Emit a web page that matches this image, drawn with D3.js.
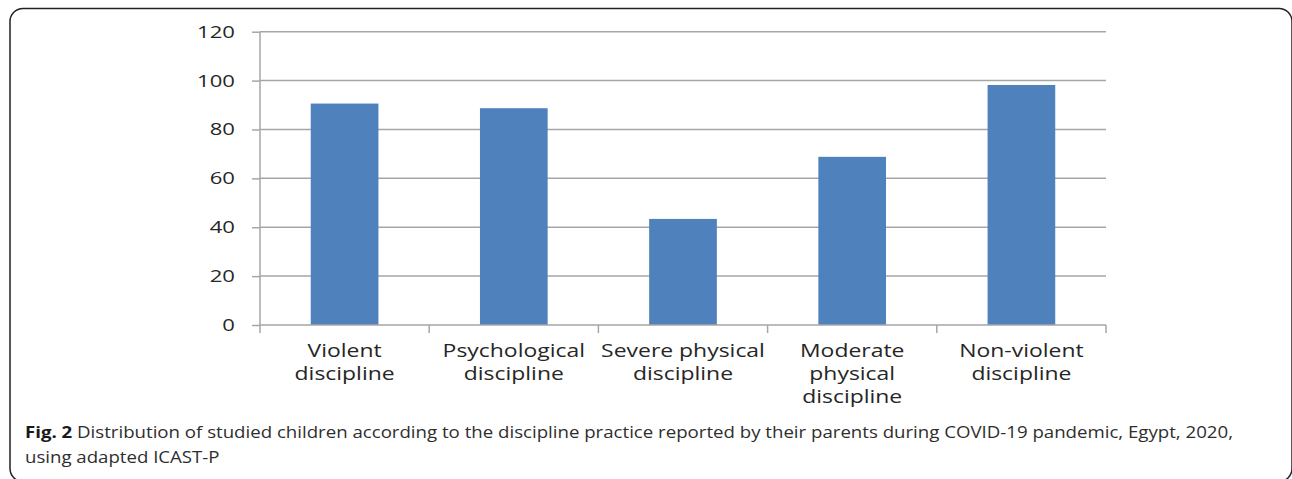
<!DOCTYPE html>
<html><head><meta charset="utf-8">
<script src="https://cdn.jsdelivr.net/npm/d3@7/dist/d3.min.js"></script>
<style>body{margin:0;background:#fff}svg{display:block}</style>
</head><body>
<svg id="c" width="1292" height="479"></svg>
<script>
const categories = [["Violent","discipline"],["Psychological","discipline"],["Severe physical","discipline"],["Moderate","physical","discipline"],["Non-violent","discipline"]];
const values = [90.6, 88.7, 43.4, 68.8, 98.2];
const yTicks = [0, 20, 40, 60, 80, 100, 120];
const captionBold = "Fig. 2";
const captionLine1 = " Distribution of studied children according to the discipline practice reported by their parents during COVID-19 pandemic, Egypt, 2020,";
const captionLine2 = "using adapted ICAST-P";

const FONT = "Open Sans, sans-serif";
const svg = d3.select("#c");
svg.append("rect").attr("x",10).attr("y",8.5).attr("width",1282).attr("height",473)
  .attr("rx",13).attr("fill","none").attr("stroke","#222").attr("stroke-width",1.5);

const x = d3.scaleBand().domain(d3.range(categories.length)).range([260,1106]).paddingInner(0.6).paddingOuter(0.3);
const y = d3.scaleLinear().domain([0,120]).range([325,31.7]);

// gridlines
svg.append("g").selectAll("line").data(yTicks.filter(d=>d>0)).join("line")
  .attr("x1",260).attr("x2",1106).attr("y1",d=>y(d)).attr("y2",d=>y(d))
  .attr("stroke","#a6a6a6").attr("stroke-width",1.5);

// bars
svg.append("g").selectAll("rect").data(values).join("rect")
  .attr("x",(d,i)=>x(i)).attr("width",x.bandwidth())
  .attr("y",d=>y(d)).attr("height",d=>y(0)-y(d)).attr("fill","#4f81bd");

// y axis
const ya = svg.append("g").attr("transform","translate(260,0)")
  .call(d3.axisLeft(y).tickValues(yTicks).tickSize(8).tickFormat(""));
ya.select(".domain").attr("stroke","#a6a6a6").attr("stroke-width",1.5).attr("d","M0,"+y(120)+"V"+y(0));
ya.selectAll(".tick line").attr("stroke","#a6a6a6").attr("stroke-width",1.5);
svg.append("g").selectAll("text").data(yTicks).join("text")
  .attr("transform",d=>"translate(235,"+(y(d)+6)+") scale(1.3,1)")
  .attr("text-anchor","end").attr("font-family",FONT).attr("font-size",17).attr("fill","#262626")
  .text(d=>d);

// x axis
const step = x.step();
const xa = svg.append("g").attr("transform","translate(0,"+y(0)+")");
xa.append("line").attr("x1",260).attr("x2",1106).attr("stroke","#a6a6a6").attr("stroke-width",1.5);
xa.selectAll(".tk").data(d3.range(categories.length+1)).join("line").attr("class","tk")
  .attr("x1",i=>260+i*step).attr("x2",i=>260+i*step).attr("y1",0).attr("y2",8)
  .attr("stroke","#a6a6a6").attr("stroke-width",1.5);
const lbl = xa.selectAll(".lb").data(categories).join("text").attr("class","lb")
  .attr("transform",(d,i)=>"translate("+(x(i)+x.bandwidth()/2)+",32) scale(1.24,1)")
  .attr("text-anchor","middle").attr("font-family",FONT).attr("font-size",18.5).attr("fill","#262626");
lbl.each(function(d){
  const t=d3.select(this);
  d.forEach((s,j)=>t.append("tspan").attr("x",0).attr("dy",j===0?0:23).text(s));
});

// caption
const cap = svg.append("text").attr("x",25).attr("y",438).attr("font-family",FONT).attr("font-size",16)
  .attr("fill","#2e2e2e").attr("textLength",1208).attr("lengthAdjust","spacingAndGlyphs");
cap.append("tspan").attr("font-weight","bold").attr("fill","#1a1a1a").text(captionBold);
cap.append("tspan").text(captionLine1);
svg.append("text").attr("transform","translate(25,463) scale(1.164,1)").attr("font-family",FONT).attr("font-size",16)
  .attr("fill","#2e2e2e").text(captionLine2);
</script>
</body></html>
